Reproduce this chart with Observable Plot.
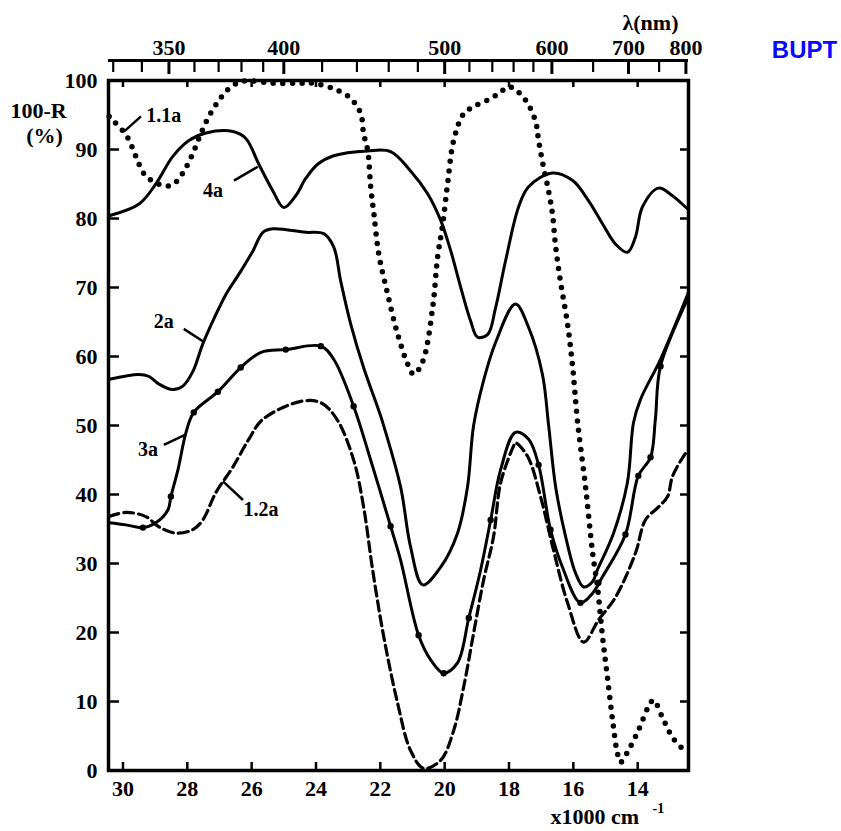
<!DOCTYPE html>
<html><head><meta charset="utf-8">
<script src="https://cdn.jsdelivr.net/npm/d3@7"></script>
<script src="https://cdn.jsdelivr.net/npm/@observablehq/plot@0.6"></script>
<style>body{margin:0;background:#fff}</style>
</head><body><div id="chart"></div>
<script>
// wavenumber (x1000 cm^-1), 100-R (%)
const curve11a = [[30.43,94.8],[30.31,94.2],[30.06,93.0],[29.84,91.6],[29.60,89.0],[29.35,86.5],[29.04,85.3],[28.60,84.7],[28.35,85.3],[28.11,86.8],[27.83,89.4],[27.58,92.3],[27.33,94.8],[27.02,97.1],[26.71,98.8],[26.27,99.9],[25.34,99.6],[24.53,99.6],[24.07,99.6],[23.45,98.8],[22.92,97.4],[22.61,95.2],[22.52,92.3],[22.39,89.8],[22.30,84.6],[22.20,80.7],[22.05,74.9],[21.77,69.0],[21.46,63.2],[21.15,58.9],[20.96,57.4],[20.68,59.3],[20.37,67.2],[20.22,74.4],[20.06,79.2],[19.91,85.0],[19.72,91.3],[19.41,95.2],[19.10,96.2],[18.57,97.4],[18.32,98.1],[18.01,99.1],[17.73,98.4],[17.42,96.7],[17.17,94.0],[17.08,91.3],[16.93,87.5],[16.77,84.0],[16.65,80.7],[16.55,75.9],[16.40,70.9],[16.18,64.7],[16.02,58.4],[15.87,50.6],[15.62,41.1],[15.40,31.5],[15.25,26.6],[15.09,19.3],[14.94,13.5],[14.78,7.3],[14.63,2.5],[14.53,1.2],[14.29,2.9],[13.98,5.8],[13.67,9.2],[13.51,10.2],[13.23,7.7],[12.92,4.8],[12.61,3.2],[12.42,2.6]];
const curve12a = [[30.43,36.8],[29.91,37.4],[29.29,36.8],[28.88,35.3],[28.35,34.4],[27.83,34.9],[27.52,36.3],[27.11,40.3],[26.58,44.0],[26.09,48.0],[25.65,50.9],[24.47,53.5],[23.85,53.3],[23.35,50.9],[22.83,45.0],[22.52,38.2],[22.24,29.1],[21.89,19.3],[21.46,9.7],[21.06,2.9],[20.65,0.3],[20.12,1.5],[19.72,5.8],[19.41,12.1],[19.10,19.9],[18.79,27.6],[18.48,33.9],[18.26,41.7],[17.86,47.0],[17.80,47.5],[17.42,45.5],[17.02,39.7],[16.62,32.0],[16.18,24.3],[15.68,18.6],[15.22,21.8],[14.69,25.1],[14.07,31.5],[13.76,36.3],[13.35,38.2],[13.07,39.7],[12.92,42.6],[12.58,45.5],[12.42,46.5]];
const curve2a = [[30.43,56.7],[29.50,57.4],[29.19,57.1],[28.88,56.0],[28.45,55.2],[28.14,55.7],[27.83,57.8],[27.52,61.8],[27.11,66.1],[26.80,69.0],[26.40,71.9],[25.96,75.3],[25.65,78.0],[25.34,78.5],[24.32,78.0],[23.76,77.8],[23.45,75.9],[23.23,70.9],[22.92,64.7],[22.52,58.4],[22.08,52.6],[21.93,50.5],[21.37,41.1],[21.06,32.4],[20.68,26.9],[20.12,29.5],[19.60,34.4],[19.29,41.1],[19.10,50.0],[18.79,56.5],[18.42,62.0],[17.80,67.6],[17.39,64.2],[16.96,57.4],[16.77,50.1],[16.55,41.1],[16.24,33.9],[15.93,28.6],[15.68,26.6],[15.40,27.4],[15.25,29.1],[14.75,34.4],[14.32,41.7],[14.13,50.4],[13.91,53.8],[13.29,59.6],[12.42,69.3]];
const curve3a = [[30.43,35.9],[29.91,35.6],[29.38,35.2],[28.98,35.9],[28.60,37.8],[28.51,39.7],[28.29,43.6],[28.04,49.0],[27.80,51.9],[27.05,54.9],[26.34,58.4],[25.71,60.6],[24.94,61.0],[23.85,61.5],[23.45,59.6],[22.83,52.8],[22.30,45.0],[21.68,35.4],[21.37,30.5],[20.81,19.6],[20.43,16.0],[20.03,14.1],[19.60,15.6],[19.25,22.1],[18.88,29.1],[18.57,36.3],[18.26,43.6],[17.80,49.0],[17.39,48.0],[17.08,44.3],[16.71,34.9],[16.34,29.5],[15.78,24.3],[15.40,25.7],[15.09,28.1],[14.38,34.2],[13.98,42.7],[13.60,45.4],[13.45,50.9],[13.29,58.6],[12.42,68.6]];
const dots3a = [[29.38,35.2],[28.51,39.7],[27.80,51.9],[27.05,54.9],[26.34,58.4],[24.94,61.0],[23.85,61.5],[22.83,52.8],[21.68,35.4],[20.81,19.6],[20.03,14.1],[19.25,22.1],[18.57,36.3],[17.08,44.3],[16.71,34.9],[15.78,24.3],[15.22,27.2],[14.38,34.2],[13.98,42.7],[13.60,45.4],[13.29,58.6]];
const curve4a = [[30.43,80.4],[29.50,82.1],[28.98,85.0],[28.45,89.0],[27.95,91.3],[27.42,92.4],[26.58,92.6],[26.18,91.6],[25.78,87.9],[25.34,84.0],[25.00,81.6],[24.63,83.3],[24.32,85.8],[23.94,87.9],[23.45,89.1],[22.39,89.8],[21.68,89.7],[21.06,86.9],[20.53,83.6],[20.12,79.7],[19.81,75.3],[19.50,70.0],[19.19,65.1],[18.98,62.8],[18.66,63.2],[18.42,67.0],[18.11,73.8],[17.70,81.7],[17.39,84.6],[16.65,86.6],[16.02,85.5],[15.53,82.6],[15.09,79.2],[14.69,76.3],[14.32,75.1],[14.07,77.3],[13.85,81.7],[13.35,84.4],[12.92,83.3],[12.52,81.7],[12.42,81.3]];

// curve labels and leader lines (data coordinates)
const labelText = ["1.1a", "4a", "2a", "3a", "1.2a"];
const labelX = [28.73, 27.20, 28.73, 29.22, 25.71];
const labelY = [94.9, 84.0, 65.0, 46.5, 37.8];
const leaderX1 = [29.97, 26.55, 28.11, 28.73, 26.27];
const leaderY1 = [92.6, 85.5, 64.0, 47.2, 39.2];
const leaderX2 = [29.44, 25.81, 27.48, 28.04, 26.89];
const leaderY2 = [94.8, 87.5, 62.1, 48.7, 41.9];

// axis ticks
const xTicks = [30, 28, 26, 24, 22, 20, 18, 16, 14];
const yTicks = [0, 10, 20, 30, 40, 50, 60, 70, 80, 90, 100];
const nmMinor = [330, 340, 360, 370, 380, 390, 420, 440, 460, 480, 520, 540, 560, 580, 650, 750];
const nmMajor = [350, 400, 500, 600, 700, 800];

const rows = arr => arr.map(([x, y]) => ({x, y}));
const labels = labelText.map((t, i) => ({t, x: labelX[i], y: labelY[i], x1: leaderX1[i], y1: leaderY1[i], x2: leaderX2[i], y2: leaderY2[i]}));

const chart = Plot.plot({
  width: 841, height: 831,
  marginLeft: 108, marginRight: 153, marginTop: 80, marginBottom: 61,
  style: "font-family: 'Liberation Serif', 'Times New Roman', serif; font-weight: bold; background: white; color: black;",
  x: {domain: [30.45, 12.42], label: null},
  y: {domain: [0, 100], label: null},
  marks: [
    Plot.line(rows(curve4a), {x: "x", y: "y", curve: "catmull-rom", strokeWidth: 3}),
    Plot.line(rows(curve2a), {x: "x", y: "y", curve: "catmull-rom", strokeWidth: 3}),
    Plot.line(rows(curve3a), {x: "x", y: "y", curve: "catmull-rom", strokeWidth: 3}),
    Plot.dot(rows(dots3a), {x: "x", y: "y", r: 3.2, fill: "black"}),
    Plot.line(rows(curve12a), {x: "x", y: "y", curve: "catmull-rom", strokeWidth: 3.2, strokeDasharray: "10 5"}),
    Plot.line(rows(curve11a), {x: "x", y: "y", curve: "catmull-rom", strokeWidth: 5.5, strokeDasharray: "0 9.6", strokeLinecap: "round"}),
    Plot.link(labels, {x1: "x1", y1: "y1", x2: "x2", y2: "y2", strokeWidth: 2.5}),
    Plot.text(labels, {x: "x", y: "y", text: "t", fontSize: 20}),
    Plot.frame({strokeWidth: 3.5}),
    Plot.axisY(yTicks, {anchor: "left", tickSize: -11, tickPadding: 22, strokeWidth: 2.5, fontSize: 22, label: null}),
    Plot.axisY(yTicks, {anchor: "right", tickSize: -9, tickFormat: () => "", strokeWidth: 2.5, label: null}),
    Plot.axisX(xTicks, {anchor: "bottom", tickSize: -8, tickPadding: 18, strokeWidth: 2.5, fontSize: 22, label: null}),
    Plot.axisX(xTicks, {anchor: "top", tickSize: -6, tickFormat: () => "", strokeWidth: 2.5, label: null}),
    Plot.ruleY([100], {dy: -20, strokeWidth: 3}),
    Plot.axisX(nmMinor.map(n => 1e4 / n), {anchor: "top", dy: -20, tickSize: -11, tickFormat: () => "", strokeWidth: 2.2, label: null}),
    Plot.axisX(nmMajor.map(n => 1e4 / n), {anchor: "top", dy: -20, tickSize: -13, tickPadding: 19, strokeWidth: 3, fontSize: 22, tickFormat: d => String(Math.round(1e4 / d)), label: null}),
    Plot.text(["λ(nm)"], {frameAnchor: "top-right", textAnchor: "middle", lineAnchor: "middle", dx: -38, dy: -58, fontSize: 22}),
    Plot.text(["BUPT"], {frameAnchor: "top-right", textAnchor: "middle", lineAnchor: "middle", dx: 116, dy: -30, fontSize: 24, fontFamily: "'Liberation Sans', Arial, sans-serif", fill: "#0a0aff"}),
    Plot.text(["100-R"], {frameAnchor: "top-left", textAnchor: "start", lineAnchor: "middle", dx: -98, dy: 30, fontSize: 22}),
    Plot.text(["(%)"], {frameAnchor: "top-left", textAnchor: "middle", lineAnchor: "middle", dx: -64, dy: 55, fontSize: 22}),
    Plot.text(["x1000 cm"], {frameAnchor: "bottom-right", textAnchor: "start", lineAnchor: "middle", dx: -138, dy: 46, fontSize: 22}),
    Plot.text(["-1"], {frameAnchor: "bottom-right", textAnchor: "start", lineAnchor: "middle", dx: -36, dy: 38, fontSize: 14})
  ]
});
document.getElementById("chart").appendChild(chart);
</script>
</body></html>
